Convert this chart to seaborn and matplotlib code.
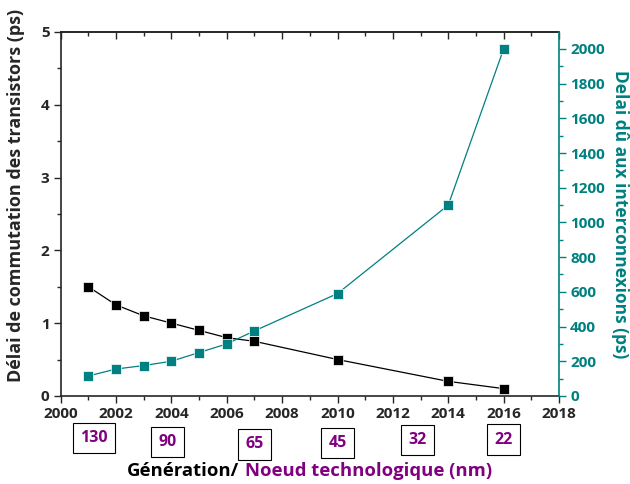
import numpy as np
import pandas as pd
import seaborn as sns
import matplotlib.pyplot as plt
from matplotlib.ticker import MultipleLocator

# data
years_switch = [2001, 2002, 2003, 2004, 2005, 2006, 2007, 2010, 2014, 2016]
switch_delay = [1.5, 1.25, 1.1, 1.0, 0.9, 0.8, 0.75, 0.5, 0.2, 0.1]
years_inter = [2001, 2002, 2003, 2004, 2005, 2006, 2007, 2010, 2014, 2016]
inter_delay = [115, 155, 175, 200, 250, 300, 375, 590, 1100, 2000]
node_years = [2001.2, 2003.85, 2007, 2010, 2012.9, 2016]
node_labels = ['130', '90', '65', '45', '32', '22']
node_offsets = [-0.115, -0.126, -0.133, -0.129, -0.121, -0.12]

TEAL = '#008080'
PURPLE = '#800080'

sns.set_style('ticks')
plt.rcParams['font.family'] = ['Open Sans', 'DejaVu Sans']
plt.rcParams['font.weight'] = 'bold'

df_s = pd.DataFrame({'year': years_switch, 'delay': switch_delay})
df_i = pd.DataFrame({'year': years_inter, 'delay': inter_delay})

fig = plt.figure(figsize=(6.3, 4.84), dpi=100)
ax = fig.add_axes([0.0963, 0.182, 0.791, 0.752])
ax2 = ax.twinx()

sns.lineplot(data=df_s, x='year', y='delay', ax=ax, color='black', lw=0.9,
             marker='s', markersize=7, markeredgecolor='white', markeredgewidth=0.5)
sns.lineplot(data=df_i, x='year', y='delay', ax=ax2, color=TEAL, lw=0.9,
             marker='s', markersize=7, markeredgecolor='white', markeredgewidth=0.5)

ax.set_xlim(2000, 2018)
ax.set_ylim(0, 5)
ax2.set_ylim(0, 2098)
ax.xaxis.set_major_locator(MultipleLocator(2))
ax.xaxis.set_minor_locator(MultipleLocator(1))
ax.yaxis.set_major_locator(MultipleLocator(1))
ax.yaxis.set_minor_locator(MultipleLocator(0.5))
ax2.yaxis.set_major_locator(MultipleLocator(200))
ax2.yaxis.set_minor_locator(MultipleLocator(100))

ax.tick_params(axis='both', which='major', length=5, width=1, labelsize=11, direction='out', pad=3)
ax.tick_params(axis='both', which='minor', length=3, width=1, direction='out')
ax2.tick_params(axis='y', which='major', length=5, width=1, colors=TEAL, labelsize=11, pad=3)
ax2.tick_params(axis='y', which='minor', length=3, width=1, colors=TEAL)

# top ticks point inward
secx = ax.secondary_xaxis('top')
secx.xaxis.set_major_locator(MultipleLocator(2))
secx.xaxis.set_minor_locator(MultipleLocator(1))
secx.tick_params(which='major', direction='in', length=5, width=1, labeltop=False)
secx.tick_params(which='minor', direction='in', length=3, width=1)
secx.spines['top'].set_linewidth(1.2)

for lbl in ax.get_xticklabels() + ax.get_yticklabels() + ax2.get_yticklabels():
    lbl.set_fontweight('bold')

for s in ['left', 'bottom', 'top']:
    ax2.spines[s].set_visible(False)
ax2.spines['right'].set_color(TEAL)
ax2.spines['right'].set_linewidth(1.2)
for s in ['left', 'bottom', 'top']:
    ax.spines[s].set_linewidth(1.2)
ax.spines['right'].set_visible(False)

ax.set_xlabel('')
ax.set_ylabel('Délai de commutation des transistors (ps)', fontsize=13,
              fontweight='bold', va='center', ha='center')
ax.yaxis.set_label_coords(-0.09, 0.55)
ax2.set_ylabel('Delai dû aux interconnexions (ps)', fontsize=12.5, fontweight='bold',
               color=TEAL, rotation=270, va='center', ha='center')
ax2.yaxis.set_label_coords(1.122, 0.5)

# technology node boxes
for yr, lab, off in zip(node_years, node_labels, node_offsets):
    ax.text(yr, off, lab, transform=ax.get_xaxis_transform(), ha='center', va='center',
            fontsize=11.5, fontweight='bold', color=PURPLE,
            bbox=dict(boxstyle='square,pad=0.45', fc='white', ec='black', lw=0.8))

# two-colour x label
fig.canvas.draw()
t1 = fig.text(0.202, 0.027, 'Génération/', fontsize=13.3, fontweight='bold', color='black',
              ha='left', va='center')
bb = t1.get_window_extent(fig.canvas.get_renderer())
x2 = (bb.x1 + 5) / fig.bbox.width
fig.text(x2, 0.027, 'Noeud technologique (nm)', fontsize=13.3, fontweight='bold',
         color=PURPLE, ha='left', va='center')

fig.savefig('out.png', dpi=100)
